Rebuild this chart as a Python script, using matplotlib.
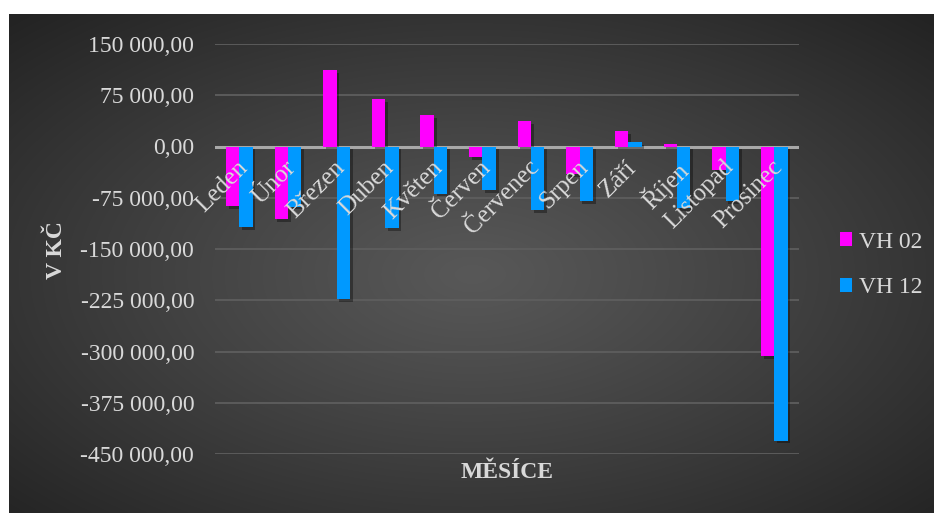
import numpy as np
import matplotlib
matplotlib.use("Agg")
import matplotlib.pyplot as plt
from matplotlib.ticker import FuncFormatter, FixedLocator
import matplotlib.patheffects as pe
from matplotlib.patches import Patch

months = ["Leden", "Únor", "Březen", "Duben", "Květen", "Červen",
          "Červenec", "Srpen", "Září", "Říjen", "Listopad", "Prosinec"]
vh02 = [-87600, -106000, 112000, 69200, 45800, -16000,
        37100, -40900, 22500, 3900, -35000, -306700]
vh12 = [-118300, -88000, -222900, -119200, -69100, -64200,
        -93500, -80300, 6800, -90000, -80300, -430300]
y_ticks = [150000, 75000, 0, -75000, -150000, -225000, -300000, -375000, -450000]

C02 = "#ff00ff"
C12 = "#0099ff"
TXT = "#d9d9d9"
FONT = "Liberation Serif"

W, H = 934, 513
fig = plt.figure(figsize=(W / 100, H / 100), dpi=100, facecolor="white")

# Dark radial-gradient backdrop of the chart area
bg = fig.add_axes([9 / W, 0, 1 - 9 / W, 1 - 14 / H])
ny, nx = 250, 460
yy, xx = np.mgrid[0:ny, 0:nx]
cx, cy = nx * 0.50, ny * 0.52
r = np.sqrt(((xx - cx) / (nx * 0.5)) ** 2 + ((yy - cy) / (ny * 0.5)) ** 2) / np.sqrt(2)
lum = 0.345 - (0.345 - 0.14) * np.clip(r, 0, 1) ** 1.1
bg.imshow(np.dstack([lum, lum, lum]), aspect="auto", extent=[0, 1, 0, 1],
          interpolation="bilinear")
bg.set_axis_off()

ax = fig.add_axes([215 / W, 1 - 454 / H, (798.5 - 215) / W, (454 - 44) / H])
ax.set_facecolor("none")

x = np.arange(len(months))
bw = 0.275
shadow = [pe.SimplePatchShadow(offset=(2, -2), shadow_rgbFace="black", alpha=0.35), pe.Normal()]
b1 = ax.bar(x - bw / 2, vh02, bw, color=C02, zorder=3, label="VH 02")
b2 = ax.bar(x + bw / 2, vh12, bw, color=C12, zorder=3, label="VH 12")
for p in list(b1) + list(b2):
    p.set_path_effects(shadow)

ax.set_xlim(-0.5, len(months) - 0.5)
ax.set_ylim(-450000, 150000)
ax.yaxis.set_major_locator(FixedLocator(y_ticks))


def czk(v, pos=None):
    s = f"{abs(v):,.2f}".replace(",", " ").replace(".", ",")
    return ("-" if v < 0 else "") + s


ax.yaxis.set_major_formatter(FuncFormatter(czk))
ax.grid(axis="y", color="#5e5e5e", linewidth=1.3, zorder=1)
ax.axhline(0, color="#a8a8a8", linewidth=2.2, zorder=2)

for s in ax.spines.values():
    s.set_visible(False)
ax.tick_params(axis="y", length=0, pad=15, labelsize=17, labelcolor=TXT)
for t in ax.get_yticklabels():
    t.set_fontfamily(FONT)

# Category labels hang from the zero line, rotated 45 degrees
ax.set_xticks(x)
ax.set_xticklabels([])
ax.tick_params(axis="x", length=0)
for xi, name in zip(x, months):
    ax.annotate(name, xy=(xi, 0), xycoords="data", xytext=(-2, -7),
                textcoords="offset points", rotation=45, rotation_mode="anchor",
                ha="right", va="top", fontsize=18, color=TXT, family=FONT,
                zorder=4)

fig.text(57 / W, 1 - 250 / H, "V KČ", rotation=90, ha="center", va="center",
         fontsize=17, fontweight="bold", color=TXT, family=FONT)
fig.text(507 / W, 1 - 472 / H, "MĚSÍCE", ha="center", va="center",
         fontsize=17, fontweight="bold", color=TXT, family=FONT)

handles = [Patch(facecolor=C02, edgecolor="none"), Patch(facecolor=C12, edgecolor="none")]
leg = fig.legend(handles, ["VH 02", "VH 12"], loc="center left",
                 bbox_to_anchor=(819 / W, 1 - 265 / H), frameon=False,
                 prop={"family": FONT, "size": 17}, labelcolor=TXT,
                 handlelength=0.5, handleheight=0.55, handletextpad=0.3,
                 labelspacing=1.05)

fig.savefig("out.png", dpi=100, facecolor="white")
